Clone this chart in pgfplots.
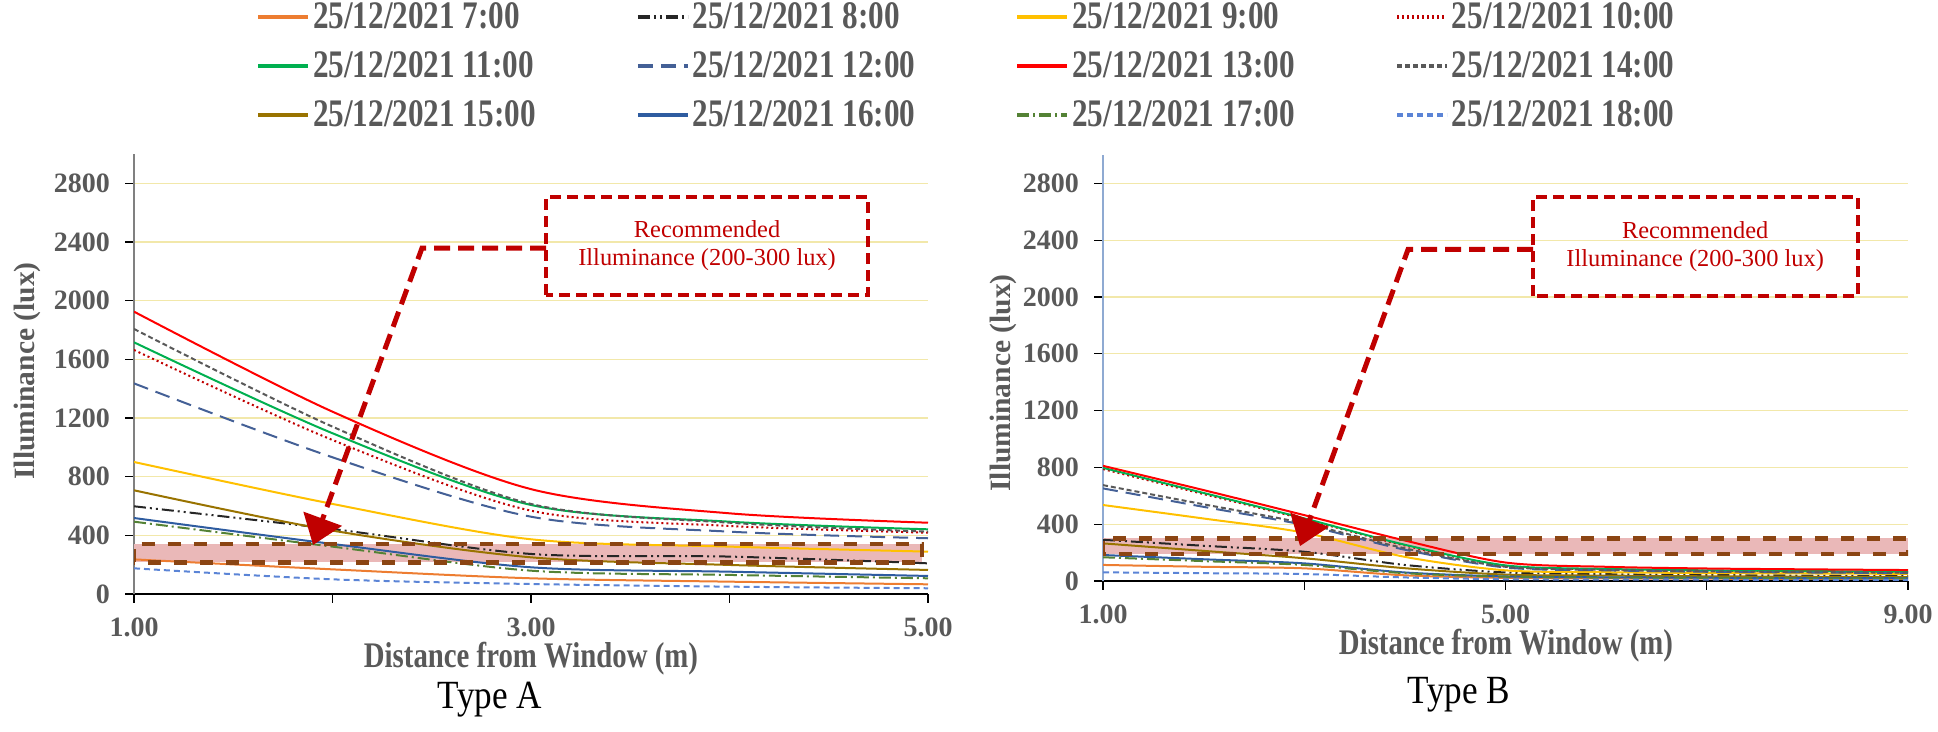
\documentclass[border=0pt]{standalone}
\usepackage{fontspec}
\setmainfont{Liberation Serif}
\newfontfamily\cond[FakeStretch=0.8]{Liberation Serif}
\newfontfamily\condtype[FakeStretch=0.88]{Liberation Serif}
\usepackage{pgfplots}
\pgfplotsset{compat=1.18}
\usepackage{pgfplotstable}
\usetikzlibrary{arrows.meta}

\definecolor{c7}{RGB}{237,125,49}
\definecolor{c8}{RGB}{38,38,38}
\definecolor{c9}{RGB}{255,192,0}
\definecolor{c10}{RGB}{192,0,0}
\definecolor{c11}{RGB}{0,176,80}
\definecolor{c12}{RGB}{68,96,150}
\definecolor{c13}{RGB}{255,0,0}
\definecolor{c14}{RGB}{89,89,89}
\definecolor{c15}{RGB}{153,115,0}
\definecolor{c16}{RGB}{46,92,160}
\definecolor{c17}{RGB}{84,130,53}
\definecolor{c18}{RGB}{91,132,214}
\definecolor{labelgray}{RGB}{89,89,89}
\definecolor{gridy}{RGB}{242,232,170}
\definecolor{annred}{RGB}{192,0,0}
\definecolor{bandbrown}{RGB}{139,69,19}
\definecolor{bandpink}{RGB}{234,184,184}
\definecolor{axblue}{RGB}{143,170,210}

% Type A: distance 1-5 m
\pgfplotstableread{
x h7 h8 h9 h10 h11 h12 h13 h14 h15 h16 h17 h18
1 236 598 900 1664 1716 1436 1925 1807 707 518 493 175
2 168 443 614 1050 1096 932 1243 1141 432 341 323 100
3 107 273 373 568 607 527 715 614 250 182 159 68
4 84 255 323 464 493 425 550 486 198 152 130 50
5 66 209 289 418 441 380 486 425 164 123 107 39
}\tabA

% Type B: distance 1-9 m
\pgfplotstableread{
x h7 h8 h9 h10 h11 h12 h13 h14 h15 h16 h17 h18
1 113 290 535 788 797 652 811 675 265 183 167 61
2 100 248 440 612 620 522 640 540 212 153 140 55
3 89 206 340 436 441 394 464 406 160 124 113 49
4 40 113 170 250 255 220 285 230 90 60 55 25
5 22 60 75 105 110 95 130 100 45 32 30 12
6 18 48 62 82 85 75 100 78 38 26 24 10
7 16 42 56 72 75 65 88 68 33 23 21 9
8 15 38 53 67 70 60 82 63 30 21 19 8
9 14 35 50 62 65 55 77 58 28 20 18 8
}\tabB

\tikzset{
  s7/.style={c7, line width=1pt, smooth},
  s8/.style={c8, line width=1pt, smooth, dash pattern=on 6pt off 2pt on 1pt off 2pt on 1pt off 2pt},
  s9/.style={c9, line width=1pt, smooth},
  s10/.style={c10, line width=1pt, smooth, dash pattern=on 1pt off 1.5pt},
  s11/.style={c11, line width=1pt, smooth},
  s12/.style={c12, line width=1pt, smooth, dash pattern=on 7.5pt off 4pt},
  s13/.style={c13, line width=1pt, smooth},
  s14/.style={c14, line width=1pt, smooth, dash pattern=on 2.5pt off 1.5pt},
  s15/.style={c15, line width=1pt, smooth},
  s16/.style={c16, line width=1pt, smooth},
  s17/.style={c17, line width=1pt, smooth, dash pattern=on 6pt off 2pt on 1pt off 2pt},
  s18/.style={c18, line width=1pt, smooth, dash pattern=on 3pt off 2pt},
  boxann/.style={annred, line width=2pt, dash pattern=on 5.5pt off 3pt},
  connann/.style={annred, line width=2.5pt, dash pattern=on 8pt off 4pt, -{Triangle[length=14pt,width=20pt]}},
  bandline/.style={bandbrown, line width=2.2pt, dash pattern=on 6.5pt off 6.5pt},
}

\pgfplotsset{
  illum/.style={
    scale only axis,
    axis x line=bottom, axis y line=left,
    axis line style={-},
    x axis line style={black, line width=0.7pt},
    ymin=0, ymax=3000, ytick={0,400,...,2800},
    ymajorgrids, grid style={gridy, line width=0.6pt},
    tick align=outside, major tick length=4.5pt,
    tick style={black, line width=0.6pt},
    ticklabel style={font=\fontsize{14pt}{14pt}\selectfont\bfseries, text=labelgray},
    /pgf/number format/assume math mode=true,
    yticklabel style={/pgf/number format/1000 sep={}, xshift=-4pt},
    xticklabel style={yshift=-4pt},
    legend image code/.code={\draw[#1,line width=1.8pt] (0pt,0pt) -- (25pt,0pt);},
  },
}
\newcommand{\lent}[1]{\addlegendentry{\makebox[156pt][l]{#1}}}

\begin{document}
\begin{tikzpicture}
\useasboundingbox (0,0) rectangle (969pt,366pt);

\begin{axis}[illum,
  at={(67pt,69pt)}, anchor=south west,
  width=397pt, height=220pt,
  xmin=1, xmax=5, xtick={1,2,3,4,5}, xticklabels={1.00,,3.00,,5.00},
  y axis line style={gray, line width=0.7pt},
  legend columns=4, legend cell align=left,
  legend style={at={(0.1537,1.352)}, anchor=north west, draw=none, fill=none,
    inner sep=0pt, row sep=7pt, nodes={inner sep=1.5pt},
    font=\cond\bfseries\fontsize{19.5pt}{21pt}\selectfont, text=labelgray,
    /tikz/every even column/.append style={column sep=4pt}},
]
\fill[bandpink] (axis cs:1,215) rectangle (axis cs:4.97,340);
\addplot[s7] table[x=x,y=h7]{\tabA}; \lent{25/12/2021 7:00}
\addplot[s8] table[x=x,y=h8]{\tabA}; \lent{25/12/2021 8:00}
\addplot[s9] table[x=x,y=h9]{\tabA}; \lent{25/12/2021 9:00}
\addplot[s10] table[x=x,y=h10]{\tabA}; \lent{25/12/2021 10:00}
\addplot[s11] table[x=x,y=h11]{\tabA}; \lent{25/12/2021 11:00}
\addplot[s12] table[x=x,y=h12]{\tabA}; \lent{25/12/2021 12:00}
\addplot[s13] table[x=x,y=h13]{\tabA}; \lent{25/12/2021 13:00}
\addplot[s14] table[x=x,y=h14]{\tabA}; \lent{25/12/2021 14:00}
\addplot[s15] table[x=x,y=h15]{\tabA}; \lent{25/12/2021 15:00}
\addplot[s16] table[x=x,y=h16]{\tabA}; \lent{25/12/2021 16:00}
\addplot[s17] table[x=x,y=h17]{\tabA}; \lent{25/12/2021 17:00}
\addplot[s18] table[x=x,y=h18]{\tabA}; \lent{25/12/2021 18:00}
\draw[bandline] (axis cs:1,215) rectangle (axis cs:4.97,340);
\draw[boxann] (axis cs:3.076,2039) rectangle (axis cs:4.698,2707);
\node[annred, font=\fontsize{12.2pt}{14pt}\selectfont, align=center] at (axis cs:3.887,2373) {Recommended\\Illuminance (200-300 lux)};
\draw[connann] (axis cs:3.076,2359) -- (axis cs:2.451,2359) -- (axis cs:1.902,334);
\end{axis}

\begin{axis}[illum,
  at={(551.5pt,75.5pt)}, anchor=south west,
  width=402.5pt, height=213pt,
  xmin=1, xmax=9, xtick={1,3,5,7,9}, xticklabels={1.00,,5.00,,9.00},
  y axis line style={axblue, line width=0.7pt},
]
\fill[bandpink] (axis cs:1,190) rectangle (axis cs:9,300);
\addplot[s7] table[x=x,y=h7]{\tabB};
\addplot[s8] table[x=x,y=h8]{\tabB};
\addplot[s9] table[x=x,y=h9]{\tabB};
\addplot[s10] table[x=x,y=h10]{\tabB};
\addplot[s11] table[x=x,y=h11]{\tabB};
\addplot[s12] table[x=x,y=h12]{\tabB};
\addplot[s13] table[x=x,y=h13]{\tabB};
\addplot[s14] table[x=x,y=h14]{\tabB};
\addplot[s15] table[x=x,y=h15]{\tabB};
\addplot[s16] table[x=x,y=h16]{\tabB};
\addplot[s17] table[x=x,y=h17]{\tabB};
\addplot[s18] table[x=x,y=h18]{\tabB};
\draw[bandline] (axis cs:1,190) rectangle (axis cs:9,300);
\draw[boxann] (axis cs:5.274,2005) rectangle (axis cs:8.505,2702);
\node[annred, font=\fontsize{12.2pt}{14pt}\selectfont, align=center] at (axis cs:6.885,2357) {Recommended\\Illuminance (200-300 lux)};
\draw[connann] (axis cs:5.274,2336) -- (axis cs:4.032,2336) -- (axis cs:2.958,246);
\end{axis}

\node[rotate=90, text=labelgray, font=\bfseries\fontsize{14.75pt}{16pt}\selectfont] at (13.5pt,180.5pt) {Illuminance (lux)};
\node[rotate=90, text=labelgray, font=\bfseries\fontsize{14.75pt}{16pt}\selectfont] at (501.5pt,174.5pt) {Illuminance (lux)};
\node[text=labelgray, font=\cond\bfseries\fontsize{18pt}{20pt}\selectfont] at (265.5pt,36.5pt) {Distance from Window (m)};
\node[text=labelgray, font=\cond\bfseries\fontsize{18pt}{20pt}\selectfont] at (753pt,43pt) {Distance from Window (m)};
\node[font=\condtype\fontsize{20pt}{22pt}\selectfont] at (245pt,16pt) {Type A};
\node[font=\condtype\fontsize{20pt}{22pt}\selectfont] at (729.5pt,18.5pt) {Type B};
\end{tikzpicture}
\end{document}
